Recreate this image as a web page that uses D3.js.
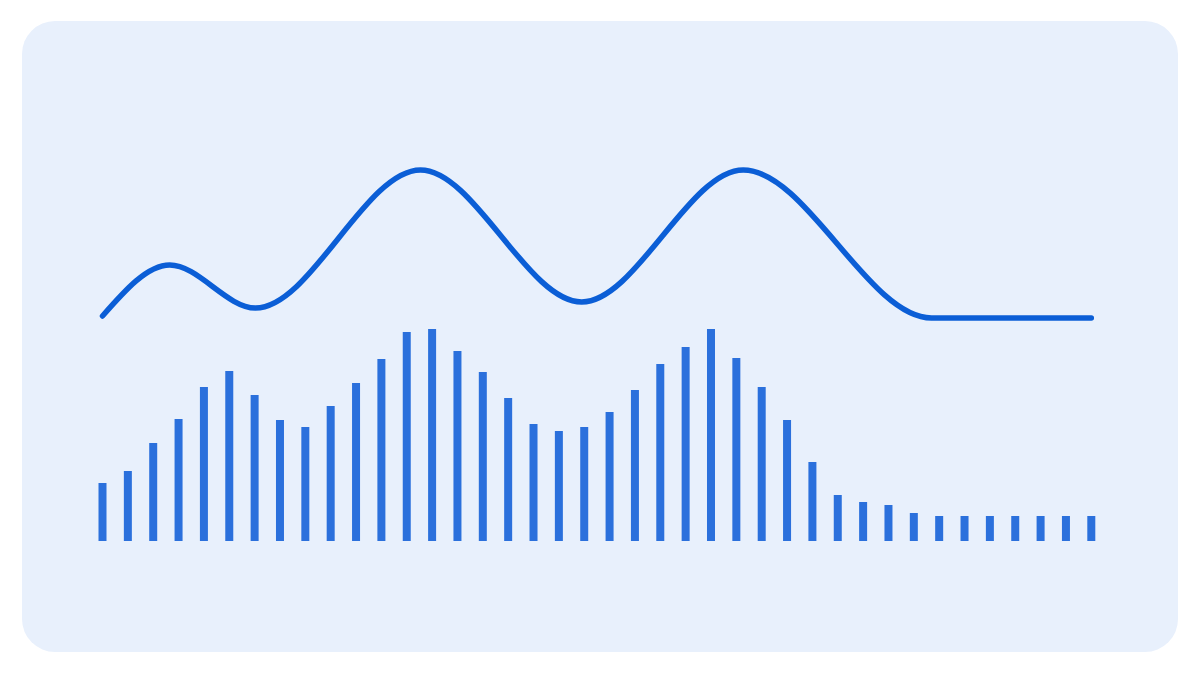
<!DOCTYPE html>
<html>
<head>
<meta charset="utf-8">
<script src="https://cdn.jsdelivr.net/npm/d3@7"></script>
<style>
  html, body { margin: 0; padding: 0; background: #ffffff; }
  svg { display: block; }
</style>
</head>
<body>
<svg id="chart" width="1200" height="675"></svg>
<script>
// Bar categories (index) and values
const barIndex = d3.range(40);
const barValues = [58, 70, 98, 122, 154, 170, 146, 121, 114, 135,
                   158, 182, 209, 212, 190, 169, 143, 117, 110, 114,
                   129, 151, 177, 194, 212, 183, 154, 121, 79, 46,
                   39, 36, 28, 25, 25, 25, 25, 25, 25, 25];

// Smooth line: turning points (in bar-index units) and values
const lineX = [0, 2.65, 6.03, 12.54, 18.9, 25.27, 32.7, 39];
const lineY = [225, 276, 233, 371, 239, 371, 223, 223];

const svg = d3.select("#chart");

// Panel
svg.append("rect")
  .attr("x", 22).attr("y", 21)
  .attr("width", 1156).attr("height", 631)
  .attr("rx", 33).attr("ry", 33)
  .attr("fill", "#e8f0fc");

const x = d3.scaleLinear().domain([0, 39]).range([102.5, 1091.3]);
const y = d3.scaleLinear().domain([0, 212]).range([541, 329]);

const barW = 8;
svg.append("g").selectAll("rect")
  .data(barIndex)
  .join("rect")
  .attr("x", d => x(d) - barW / 2)
  .attr("y", d => y(barValues[d]))
  .attr("width", barW)
  .attr("height", d => y(0) - y(barValues[d]))
  .attr("fill", "#2b70dc");

const pts = lineX.map((d, i) => [d, lineY[i]]);
const line = d3.line()
  .x(d => x(d[0]))
  .y(d => y(d[1]))
  .curve(d3.curveMonotoneX);

svg.append("path")
  .datum(pts)
  .attr("d", line)
  .attr("fill", "none")
  .attr("stroke", "#0b5ed6")
  .attr("stroke-width", 5.5)
  .attr("stroke-linecap", "round")
  .attr("stroke-linejoin", "round");
</script>
</body>
</html>
